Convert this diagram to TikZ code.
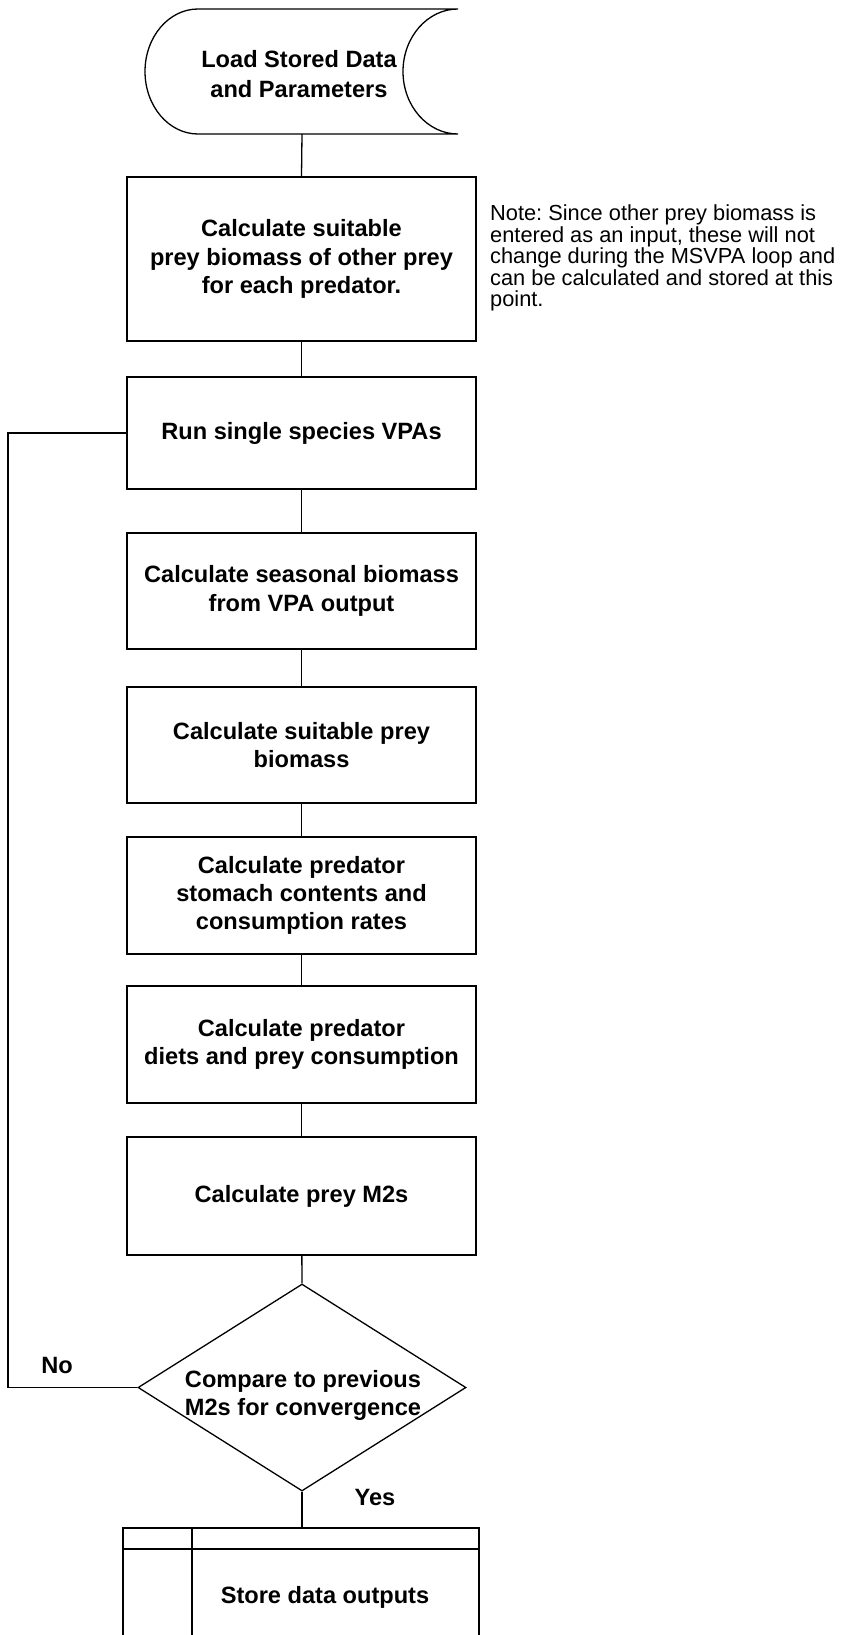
\documentclass[tikz,border=0pt]{standalone}
\usepackage{fontspec}
\setmainfont{Liberation Sans}
\usetikzlibrary{shapes.geometric}
\frenchspacing
\tikzset{
  ln/.style={line width=1.3pt, line join=miter},
  proc/.style={ln, draw, rectangle, minimum width=349pt, align=center, inner sep=0pt,
    font=\bfseries\fontsize{23.6}{28.3}\selectfont},
  txt/.style={align=center, inner sep=0pt, font=\bfseries\fontsize{23.6}{28.3}\selectfont},
  notetxt/.style={align=left, inner sep=0pt, anchor=north west,
    font=\fontsize{21.8}{21.4}\selectfont},
}
\begin{document}
\begin{tikzpicture}[x=1pt, y=-1pt]
\useasboundingbox (0,0) rectangle (854,1635);
\clip (0,0) rectangle (854,1635);
% start: stored data shape
\node[txt, font=\bfseries\fontsize{23.6}{30}\selectfont] (load) at (299,74) {Load Stored Data\\and Parameters};
\coordinate (loadb) at (302,134);
\draw[ln] (198,9) -- (458,9)
  .. controls (427.6,9) and (403,37) .. (403,71.5)
  .. controls (403,106) and (427.6,134) .. (458,134)
  -- (198,134)
  .. controls (168.7,134) and (145,106) .. (145,71.5)
  .. controls (145,37) and (168.7,9) .. (198,9) -- cycle;
% process boxes
\node[proc, minimum height=164pt] (b1) at (301.5,259) {Calculate suitable\\prey biomass of other prey\\for each predator.};
\node[proc, minimum height=112pt] (b2) at (301.5,433) {Run single species VPAs};
\node[proc, minimum height=116pt] (b3) at (301.5,591) {Calculate seasonal biomass\\from VPA output};
\node[proc, minimum height=116pt] (b4) at (301.5,745) {Calculate suitable prey\\biomass};
\node[proc, minimum height=117pt] (b5) at (301.5,895.5) {Calculate predator\\stomach contents and\\consumption rates};
\node[proc, minimum height=117pt] (b6) at (301.5,1044.5) {Calculate predator\\diets and prey consumption};
\node[proc, minimum height=118pt] (b7) at (301.5,1196) {Calculate prey M2s};
% decision
\node[ln, draw, diamond, aspect=1.585, minimum width=328pt, minimum height=207pt, inner sep=0pt] (dec) at (302,1387.5) {};
\node[txt, font=\bfseries\fontsize{23.6}{28}\selectfont] (dect) at (303,1395) {Compare to previous\\M2s for convergence};
% store box
\draw[ln] (123,1645) -- (123,1528) -- (479,1528) -- (479,1645);
\draw[ln] (123,1549) -- (479,1549);
\draw[ln] (192,1528) -- (192,1645);
\node[txt] (store) at (325,1597) {Store data outputs};
\coordinate (storetop) at (302,1528);
% note
\node[notetxt] (note) at (490,205) {Note: Since other prey biomass is\\entered as an input, these will not\\change during the MSVPA loop and\\can be calculated and stored at this\\point.};
% labels
\node[txt] (no) at (57,1365) {No};
\node[txt] (yes) at (375,1497) {Yes};
% connectors
\draw[ln] (loadb) -- (b1.north);
\draw[ln] (b1) -- (b2);
\draw[ln] (b2) -- (b3);
\draw[ln] (b3) -- (b4);
\draw[ln] (b4) -- (b5);
\draw[ln] (b5) -- (b6);
\draw[ln] (b6) -- (b7);
\draw[ln] (b7) -- (dec.north);
\draw[ln] (dec.south) -- (storetop);
\coordinate (lb) at (8,1387.5);
\coordinate (lt) at (8,433);
\draw[ln] (dec.west) -- (lb) -- (lt) -- (b2.west);
\end{tikzpicture}
\end{document}
